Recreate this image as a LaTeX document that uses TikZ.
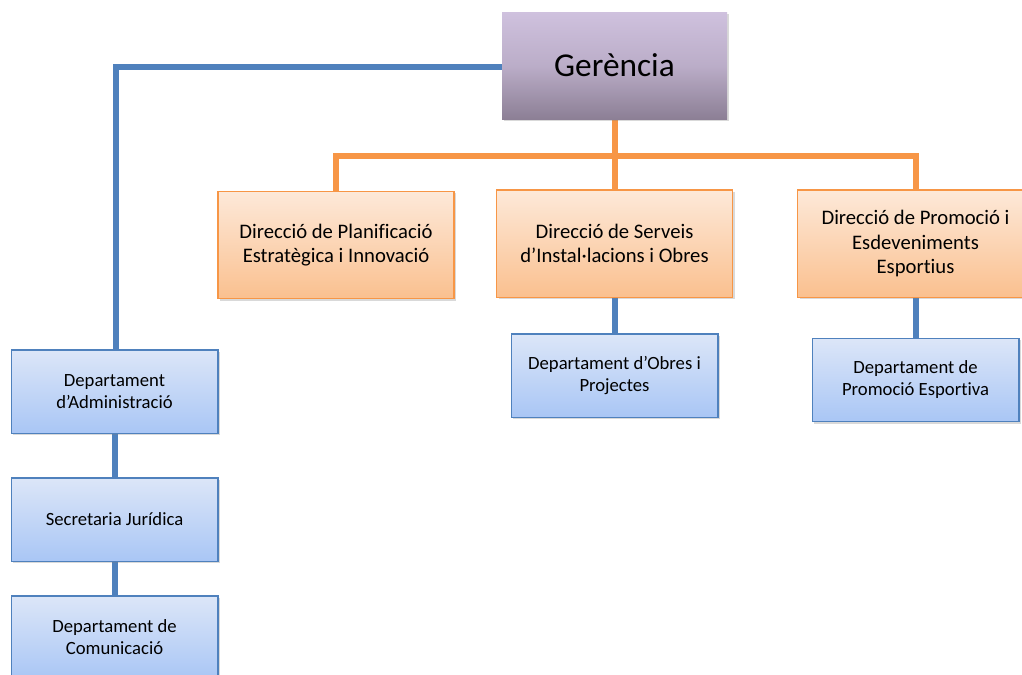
\documentclass[tikz,border=0pt]{standalone}
\usepackage{fontspec}
\setmainfont[Ligatures=NoCommon]{Carlito}
\usetikzlibrary{shadows,backgrounds}
\definecolor{obord}{HTML}{F79646}
\definecolor{otop}{HTML}{FDE9D9}
\definecolor{obot}{HTML}{FAC08F}
\definecolor{bbord}{HTML}{4F81BD}
\definecolor{btop}{HTML}{DCE6F8}
\definecolor{bbot}{HTML}{A9C6F5}
\definecolor{gtop}{HTML}{CFC1DE}
\definecolor{gbot}{HTML}{8C7F95}
\tikzset{
  x=0.75pt,y=-0.75pt,
  shade/.style={drop shadow={opacity=0.3,shadow xshift=1.5pt,shadow yshift=-1.5pt}},
  gerbox/.style={rectangle,minimum width=168.75pt,minimum height=80.25pt,inner sep=0pt,
    top color=gtop,bottom color=gbot,middle color=gtop!70!gbot,font=\fontsize{25}{30}\selectfont,shade},
  orbox/.style={rectangle,draw=obord,line width=1pt,top color=otop,bottom color=obot,
    minimum width=177pt,minimum height=80.5pt,inner sep=2pt,align=center,
    font=\fontsize{15.5}{18.5}\selectfont,shade},
  blbox/.style={rectangle,draw=bbord,line width=1pt,top color=btop,bottom color=bbot,
    minimum width=155pt,minimum height=62.5pt,inner sep=2pt,align=center,
    font=\fontsize{14}{16.5}\selectfont,shade},
  bline/.style={draw=bbord,line width=4.5pt},
  oline/.style={draw=obord,line width=4.5pt},
}
\begin{document}
\begin{tikzpicture}
\useasboundingbox (0,0) rectangle (1022,675);
\node[gerbox] (ger) at (614.5,65.5) {Gerència};
\node[orbox] (o1) at (336,245) {Direcció de Planificació\\Estratègica i Innovació};
\node[orbox] (o2) at (614.5,243.5) {Direcció de Serveis\\d’Instal·lacions i Obres};
\node[orbox] (o3) at (915.5,243.5) {Direcció de Promoció i\\Esdeveniments\\Esportius};
\node[blbox] (b2) at (614.5,375.5) {Departament d’Obres i\\Projectes};
\node[blbox] (b3) at (915.5,380) {Departament de\\Promoció Esportiva};
\node[blbox] (a1) at (114.5,391.5) {Departament\\d’Administració};
\node[blbox] (a2) at (114.5,519.5) {Secretaria Jurídica};
\node[blbox] (a3) at (114.5,637.5) {Departament de\\Comunicació};
\coordinate (bar) at (614.5,156);
\coordinate (bl) at (116,67);
\begin{scope}[on background layer]
\draw[bline] (ger.west |- bl) -- (bl) -- (bl |- a1.north);
\draw[bline] (a1.south) -- (a2.north);
\draw[bline] (a2.south) -- (a3.north);
\draw[bline] (o2.south) -- (b2.north);
\draw[bline] (o3.south) -- (b3.north);
\draw[oline] (ger.south) -- (bar);
\draw[oline,line cap=rect] (o1.north) -- (o1.north |- bar) -- (o3.north |- bar) -- (o3.north);
\draw[oline] (bar) -- (o2.north);
\end{scope}
\end{tikzpicture}
\end{document}
